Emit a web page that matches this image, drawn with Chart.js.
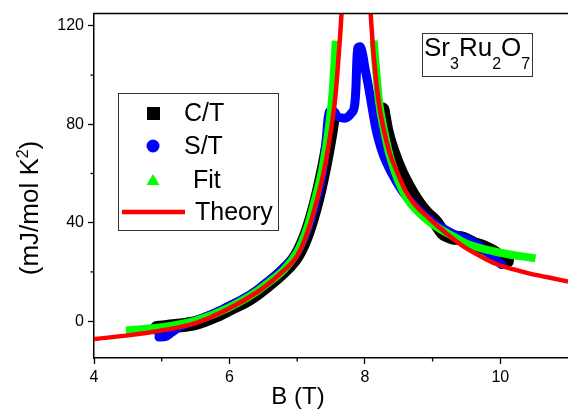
<!DOCTYPE html>
<html lang="en">
<head>
  <meta charset="UTF-8">
  <title>Sr3Ru2O7 C/T vs B</title>
  <script src="https://cdn.jsdelivr.net/npm/chart.js"></script>
  <style>
    html, body { margin: 0; padding: 0; background: #fff; }
    #wrap { width: 568px; height: 412px; }
  </style>
</head>
<body>
<div id="wrap"><canvas id="chart" width="568" height="412"></canvas></div>

<script>
  // values: field B (T) and mJ/mol K^2
  const ctB   = [4.93, 5.2, 5.5, 5.8, 6.0, 6.3, 6.5, 6.8, 7.0, 7.15, 7.28, 7.38, 7.45, 7.5, 7.53,
                 7.85,
                 8.26, 8.32, 8.42, 8.52, 8.63, 8.76, 8.9, 9.05, 9.15, 9.3, 9.45, 9.6, 9.75, 9.9, 10.0, 10.1];
  const ctVal = [-2.8, -2.0, -0.8, 2.3, 5.0, 9.3, 13.3, 20.3, 26.8, 36, 48, 60, 70, 78, 84,
                 null,
                 86, 77, 68, 61, 55, 49, 44, 40, 36, 34, 33.5, 31.5, 30, 28, 26, 24.5];

  const stB   = [4.96, 5.05, 5.15, 5.3, 5.5, 5.8, 6.0, 6.3, 6.5, 6.8, 7.0, 7.15, 7.28, 7.38, 7.43, 7.47,
                 7.53, 7.6, 7.7, 7.8, 7.85, 7.87, 7.88, 7.895, 7.93, 7.97, 8.0, 8.05, 8.1, 8.15, 8.2,
                 8.28, 8.4, 8.55, 8.7, 8.9, 9.1, 9.3, 9.5, 9.7, 9.85, 9.97, 10.02];
  const stVal = [-6.5, -6.3, -4.5, -1.8, 0.2, 3.4, 6.1, 10.6, 14.5, 21.5, 28, 37, 49, 61, 74, 85,
                 85.5, 83, 82.5, 84.5, 88, 96, 105, 111, 111.5, 108, 103, 96, 88, 80, 74,
                 67, 60, 53, 48, 42.5, 38.5, 35.5, 33.5, 30.5, 27, 24, 23];

  const fitB   = [4.47, 4.7, 5.0, 5.5, 6.0, 6.5, 7.0, 7.15, 7.27, 7.38, 7.47, 7.52, 7.55, 7.57,
                  7.85,
                  8.13, 8.17, 8.21, 8.28, 8.37, 8.48, 8.62, 8.82, 9.05, 9.3, 9.5, 9.7, 9.9, 10.1, 10.3, 10.52];
  const fitVal = [-3.8, -3.3, -2.5, 0.2, 5.6, 14.0, 28, 38, 50, 63, 79, 92, 104, 114,
                  null,
                  114, 101, 89, 78, 67, 58, 50, 43.5, 38.5, 34.5, 31.5, 29.7, 28.4, 27.3, 26.4, 25.5];

  const theoryB   = [4.0, 4.5, 5.0, 5.5, 6.0, 6.5, 6.8, 7.0, 7.15, 7.3, 7.41, 7.49, 7.56, 7.6, 7.64, 7.67,
                     7.85,
                     8.07, 8.1, 8.14, 8.2, 8.27, 8.37, 8.47, 8.6, 8.72, 8.96, 9.21, 9.45, 9.7, 9.94,
                     10.2, 10.45, 10.7, 11.0];
  const theoryVal = [-7.3, -5.8, -3.8, -0.8, 5.2, 13.5, 20.5, 26.5, 36, 50, 63, 76, 90, 103, 118, 132,
                     null,
                     132, 119, 105, 90, 79, 68, 61, 53, 48, 41.5, 35.5, 30.5, 26.5, 23.2,
                     21, 19.2, 17.8, 16.1];

  const xTicks = [4, 6, 8, 10];
  const xMinor = [5, 7, 9];
  const yTicks = [0, 40, 80, 120];
  const yMinor = [20, 60, 100];

  const FONT = "'Liberation Sans', Arial, sans-serif";
  Chart.defaults.font.family = FONT;
  Chart.defaults.color = '#000';

  function toPoints(bs, vs) {
    return bs.map((b, i) => ({ x: b, y: vs[i] }));
  }

  function band(label, bs, vs, color, width, order, cap) {
    return {
      label: label,
      data: toPoints(bs, vs),
      borderColor: color,
      backgroundColor: color,
      borderWidth: width,
      borderCapStyle: cap,
      borderJoinStyle: 'round',
      cubicInterpolationMode: 'monotone',
      pointRadius: 0,
      pointHoverRadius: 0,
      fill: false,
      spanGaps: false,
      clip: 0,
      order: order
    };
  }

  // legend + label box + frame bits that the library has no option for
  const decor = {
    id: 'decor',
    afterDraw(chart) {
      const { ctx, chartArea: a, scales: { x, y } } = chart;
      ctx.save();

      // top frame line
      ctx.strokeStyle = '#000';
      ctx.lineWidth = 1.5;
      ctx.beginPath();
      ctx.moveTo(a.left - 0.75, a.top);
      ctx.lineTo(a.right, a.top);
      ctx.stroke();

      // minor ticks (shorter than the major ones)
      ctx.lineWidth = 1.3;
      xMinor.forEach(v => {
        const px = x.getPixelForValue(v);
        ctx.beginPath(); ctx.moveTo(px, a.bottom); ctx.lineTo(px, a.bottom + 3.5); ctx.stroke();
      });
      yMinor.forEach(v => {
        const py = y.getPixelForValue(v);
        ctx.beginPath(); ctx.moveTo(a.left, py); ctx.lineTo(a.left - 3.5, py); ctx.stroke();
      });

      // axis titles
      ctx.fillStyle = '#000';
      ctx.textBaseline = 'alphabetic';
      ctx.textAlign = 'center';
      ctx.font = '24px ' + FONT;
      ctx.fillText('B (T)', 298, 404);

      ctx.save();
      ctx.translate(38, 208);
      ctx.rotate(-Math.PI / 2);
      ctx.textAlign = 'left';
      ctx.font = '26px ' + FONT;
      const p1 = '(mJ/mol K', p3 = ')';
      const w1 = ctx.measureText(p1).width;
      const w3 = ctx.measureText(p3).width;
      ctx.font = '16px ' + FONT;
      const w2 = ctx.measureText('2').width;
      const sx = -(w1 + w2 + w3) / 2;
      ctx.font = '26px ' + FONT;
      ctx.fillText(p1, sx, 0);
      ctx.font = '16px ' + FONT;
      ctx.fillText('2', sx + w1, -10);
      ctx.font = '26px ' + FONT;
      ctx.fillText(p3, sx + w1 + w2, 0);
      ctx.restore();

      // legend
      const ds = chart.data.datasets;
      ctx.fillStyle = '#fff';
      ctx.fillRect(118, 93, 161, 138);
      ctx.strokeStyle = '#333';
      ctx.lineWidth = 1;
      ctx.strokeRect(118.5, 93.5, 160, 137);

      ctx.fillStyle = ds[0].borderColor;
      ctx.fillRect(147, 107, 13, 13);

      ctx.fillStyle = ds[1].borderColor;
      ctx.beginPath(); ctx.arc(153, 146, 6.5, 0, Math.PI * 2); ctx.fill();

      ctx.fillStyle = ds[2].borderColor;
      ctx.beginPath();
      ctx.moveTo(153, 174); ctx.lineTo(159.5, 185); ctx.lineTo(146.5, 185); ctx.closePath();
      ctx.fill();

      ctx.strokeStyle = ds[3].borderColor;
      ctx.lineWidth = 4.5;
      ctx.beginPath(); ctx.moveTo(122, 212); ctx.lineTo(185, 212); ctx.stroke();

      ctx.fillStyle = '#000';
      ctx.textAlign = 'left';
      ctx.textBaseline = 'middle';
      ctx.font = '25px ' + FONT;
      ctx.fillText(ds[0].label, 184, 114);
      ctx.fillText(ds[1].label, 184, 147);
      ctx.fillText(' ' + ds[2].label, 186, 181);
      ctx.fillText(ds[3].label, 195, 213);

      // compound label
      ctx.strokeStyle = '#333';
      ctx.lineWidth = 1;
      ctx.strokeRect(422.5, 33.5, 110, 43);
      ctx.textBaseline = 'alphabetic';
      const parts = [['Sr', 0], ['3', 1], ['Ru', 0], ['2', 1], ['O', 0], ['7', 1]];
      let tx = 424;
      parts.forEach(([t, sub]) => {
        ctx.font = (sub ? '16px ' : '26px ') + FONT;
        ctx.fillText(t, tx, sub ? 69 : 56);
        tx += ctx.measureText(t).width;
      });

      ctx.restore();
    }
  };

  new Chart(document.getElementById('chart'), {
    type: 'line',
    data: {
      datasets: [
        band('C/T', ctB, ctVal, '#000000', 14, 3, 'round'),
        band('S/T', stB, stVal, '#0000ff', 9, 2, 'round'),
        band('Fit', fitB, fitVal, '#00ff00', 8, 1, 'butt'),
        band('Theory', theoryB, theoryVal, '#ff0000', 4.5, 0, 'butt')
      ]
    },
    options: {
      responsive: false,
      animation: false,
      layout: { padding: { top: 4, right: 0, bottom: 0, left: 0 } },
      plugins: { legend: { display: false }, tooltip: { enabled: false } },
      scales: {
        x: {
          type: 'linear',
          min: 4,
          max: 11,
          afterBuildTicks: s => { s.ticks = xTicks.map(v => ({ value: v })); },
          afterFit: s => { s.height = 54; },
          ticks: { font: { size: 16 }, color: '#000', padding: 4, maxRotation: 0, autoSkip: false },
          grid: { drawOnChartArea: false, drawTicks: true, tickLength: 6, tickWidth: 1.3, tickColor: '#000' },
          border: { display: true, color: '#000', width: 1.5 }
        },
        y: {
          type: 'linear',
          min: -15,
          max: 125,
          afterBuildTicks: s => { s.ticks = yTicks.map(v => ({ value: v })); },
          afterFit: s => { s.width = 94; },
          ticks: { font: { size: 16 }, color: '#000', padding: 4, autoSkip: false },
          grid: { drawOnChartArea: false, drawTicks: true, tickLength: 6, tickWidth: 1.3, tickColor: '#000' },
          border: { display: true, color: '#000', width: 1.5 }
        }
      }
    },
    plugins: [decor]
  });
</script>
</body>
</html>
